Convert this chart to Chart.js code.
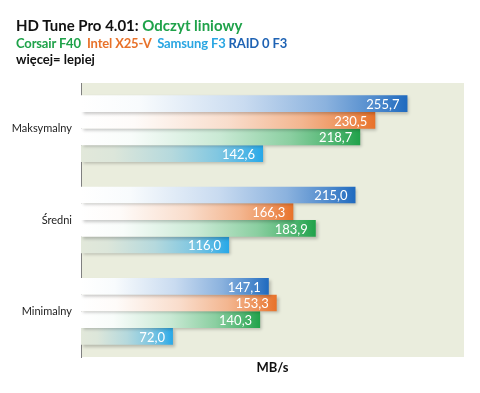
<!DOCTYPE html>
<html><head><meta charset="utf-8">
<script src="https://cdn.jsdelivr.net/npm/chart.js@4/dist/chart.umd.min.js"></script>
<style>
html,body{margin:0;padding:0;background:#fff;}
#wrap{position:relative;width:480px;height:393px;}
#c{position:absolute;left:0;top:0;}
.t{position:absolute;left:16px;font-family:Lato,"Open Sans",sans-serif;font-weight:bold;white-space:pre;line-height:16px;}
</style></head>
<body>
<div id="wrap">
<canvas id="c" width="480" height="393"></canvas>
<div class="t" style="top:17px;font-size:15px;color:#111;">HD Tune Pro 4.01: <span style="color:#1fa24a">Odczyt liniowy</span></div>
<div class="t" style="top:35px;font-size:13px;letter-spacing:-0.15px;"><span style="color:#1fa24a">Corsair F40</span>  <span style="color:#e8722a">Intel X25-V</span>  <span style="color:#2aa6e2">Samsung F3</span> <span style="color:#1f63b4">RAID 0 F3</span></div>
<div class="t" style="top:51px;font-size:13px;color:#111;">więcej= lepiej</div>
</div>
<script>
const categories = ["Maksymalny", "Średni", "Minimalny"];
const seriesNames = ["RAID 0 F3", "Intel X25-V", "Corsair F40", "Samsung F3"];
const raidF3 = [255.7, 215.0, 147.1];
const intelX25V = [230.5, 166.3, 153.3];
const corsairF40 = [218.7, 183.9, 140.3];
const samsungF3 = [142.6, 116.0, 72.0];
const axisTitle = "MB/s";

const colors = [[31,106,191], [232,114,42], [32,162,74], [39,168,232]];
const startCols = [[255,255,255], [255,255,255], [255,255,255], [226,232,218]];

function mix(a, b, t) {
  return 'rgb(' + a.map((v, k) => Math.round(v + (b[k] - v) * t)).join(',') + ')';
}

function gradFor(i) {
  return function(ctx) {
    const chart = ctx.chart;
    const area = chart.chartArea;
    const col = colors[i], st = startCols[i];
    if (!area || ctx.type !== 'data' || !chart.scales.x) return mix(st, col, 1);
    const end = chart.scales.x.getPixelForValue(ctx.raw);
    const g = chart.ctx.createLinearGradient(area.left, 0, end, 0);
    g.addColorStop(0, mix(st, col, 0));
    g.addColorStop(0.18, mix(st, col, 0.03));
    g.addColorStop(0.5, mix(st, col, 0.24));
    g.addColorStop(0.75, mix(st, col, 0.52));
    g.addColorStop(0.9, mix(st, col, 0.78));
    g.addColorStop(1, mix(st, col, 1));
    return g;
  };
}

const seriesData = [raidF3, intelX25V, corsairF40, samsungF3];

const bgPlugin = {
  id: 'bg',
  beforeDraw(chart) {
    const a = chart.chartArea, c = chart.ctx;
    c.save(); c.fillStyle = '#eaeddd';
    c.fillRect(a.left, a.top, a.right - a.left, a.bottom - a.top);
    c.restore();
  },
  beforeDatasetsDraw(chart) {
    const c = chart.ctx;
    c.save();
    c.shadowColor = 'rgba(0,0,0,0.22)';
    c.shadowBlur = 3; c.shadowOffsetX = 2; c.shadowOffsetY = 2;
  },
  afterDatasetsDraw(chart) {
    const c = chart.ctx;
    c.restore();
    c.save();
    c.font = '13px Lato, "Open Sans", sans-serif';
    c.fillStyle = '#ffffff';
    c.textAlign = 'right';
    c.textBaseline = 'middle';
    chart.data.datasets.forEach((ds, di) => {
      const meta = chart.getDatasetMeta(di);
      meta.data.forEach((el, j) => {
        const v = ds.data[j];
        c.fillText(v.toFixed(1).replace('.', ','), el.x - 8, el.y + 1);
      });
    });
    c.restore();
  }
};

new Chart(document.getElementById('c'), {
  type: 'bar',
  data: {
    labels: categories,
    datasets: seriesData.map((d, i) => ({
      label: seriesNames[i],
      data: d,
      backgroundColor: gradFor(i),
      borderWidth: 0,
      categoryPercentage: 0.73,
      barPercentage: 1.0
    }))
  },
  options: {
    indexAxis: 'y',
    responsive: false,
    animation: false,
    events: [],
    layout: { padding: { top: 83, right: 16, left: 0, bottom: 0 } },
    plugins: { legend: { display: false }, tooltip: { enabled: false } },
    scales: {
      x: {
        min: 0, max: 300,
        grid: { display: false },
        border: { display: false },
        ticks: { display: false },
        title: { display: true, text: axisTitle, color: '#111', font: { family: 'Lato, "Open Sans", sans-serif', size: 13, weight: 'bold' }, padding: { top: 0, bottom: 17 } },
        afterFit(s) { s.height = 36; }
      },
      y: {
        grid: { display: false, drawTicks: false },
        border: { display: true, color: '#808080', width: 1 },
        ticks: { color: '#222', padding: 9, font: { family: 'Lato, "Open Sans", sans-serif', size: 11 } },
        afterFit(s) { s.width = 81; }
      }
    }
  },
  plugins: [bgPlugin]
});
</script>
</body></html>
